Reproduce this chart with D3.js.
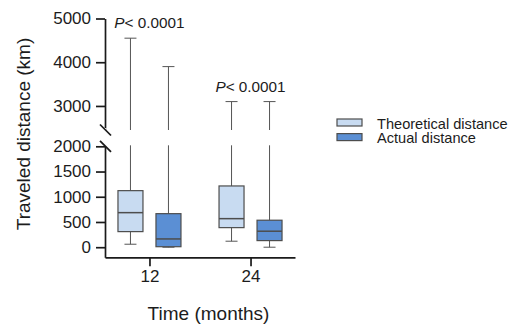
<!DOCTYPE html>
<html>
<head>
<meta charset="utf-8">
<script src="https://cdn.jsdelivr.net/npm/d3@7"></script>
<style>
  html, body { margin: 0; padding: 0; background: #fff; }
  svg { display: block; font-family: "Liberation Sans", Arial, Helvetica, sans-serif; }
</style>
</head>
<body>
<svg id="chart" width="518" height="327"></svg>
<script>
// Follow-up time points (months)
const months = ["12", "24"];
const seriesNames = ["Theoretical distance", "Actual distance"];

// Five-number summaries per time point: [min, q1, median, q3, max] in km
const theoreticalStats = [
  [59, 309, 685, 1121, 4550],
  [119, 388, 566, 1214, 3100]
];
const actualStats = [
  [0, 10, 164, 665, 3900],
  [0, 131, 317, 535, 3100]
];

// Significance per time point
const pValues = ["< 0.0001", "< 0.0001"];

// Axis ticks for the two segments of the broken y axis
const lowerTicks = [0, 500, 1000, 1500, 2000];
const upperTicks = [3000, 4000, 5000];

const fills = ["#c8dbf1", "#5b8fd4"];
const boxStroke = "#4d4d4d";
const whiskerStroke = "#555";
const ink = "#1c1c1c";

const svg = d3.select("#chart");

// Broken y axis: lower segment 0-2000, upper segment above the break
const yLower = d3.scaleLinear().domain([-200, 2000]).range([257.3, 146.3]);
const yUpper = d3.scaleLinear().domain([2450, 5000]).range([130, 18.5]);
const breakValue = 2000;

const x = d3.scalePoint().domain(months).range([105, 295]).padding(0.44);
const offset = d3.scalePoint().domain(seriesNames).range([-19, 19]);
const boxW = 25;
const capHalf = 6;

const stats = [theoreticalStats, actualStats];

function seg(g, x1, y1, x2, y2, color, w) {
  g.append("line").attr("x1", x1).attr("y1", y1).attr("x2", x2).attr("y2", y2)
    .attr("stroke", color).attr("stroke-width", w);
}

// Boxes and whiskers
seriesNames.forEach((name, si) => {
  months.forEach((m, mi) => {
    const [mn, q1, med, q3, mx] = stats[si][mi];
    const cx = x(m) + offset(name);
    const g = svg.append("g");

    // upper whisker, split across the axis break when needed
    if (mx > breakValue) {
      seg(g, cx, yLower(q3), cx, yLower(breakValue) - 1, whiskerStroke, 1);
      seg(g, cx, yUpper.range()[0], cx, yUpper(mx), whiskerStroke, 1);
      seg(g, cx - capHalf, yUpper(mx), cx + capHalf, yUpper(mx), whiskerStroke, 1);
    } else {
      seg(g, cx, yLower(q3), cx, yLower(mx), whiskerStroke, 1);
      seg(g, cx - capHalf, yLower(mx), cx + capHalf, yLower(mx), whiskerStroke, 1);
    }

    // lower whisker
    seg(g, cx, yLower(q1), cx, yLower(mn), whiskerStroke, 1);
    seg(g, cx - capHalf, yLower(mn), cx + capHalf, yLower(mn), whiskerStroke, 1);

    // box
    g.append("rect")
      .attr("x", cx - boxW / 2).attr("y", yLower(q3))
      .attr("width", boxW).attr("height", yLower(q1) - yLower(q3))
      .attr("fill", fills[si]).attr("stroke", boxStroke).attr("stroke-width", 1.2);

    // median
    seg(g, cx - boxW / 2, yLower(med), cx + boxW / 2, yLower(med), boxStroke, 1.5);
  });
});

// Axes
function styleAxis(sel, fontSize) {
  sel.selectAll("path.domain").attr("stroke", "#1a1a1a").attr("stroke-width", 1.7);
  sel.selectAll(".tick line").attr("stroke", "#1a1a1a").attr("stroke-width", 1.7);
  sel.selectAll(".tick text").attr("fill", ink).style("font-size", fontSize + "px")
    .style("font-family", '"Liberation Sans", Arial, sans-serif');
}

const intFmt = d3.format("d");

const axLower = svg.append("g").attr("transform", "translate(105,0)")
  .call(d3.axisLeft(yLower).tickValues(lowerTicks).tickFormat(intFmt)
    .tickSize(9).tickSizeOuter(0).tickPadding(5));
styleAxis(axLower, 17);

const axUpper = svg.append("g").attr("transform", "translate(105,0)")
  .call(d3.axisLeft(yUpper).tickValues(upperTicks).tickFormat(intFmt)
    .tickSize(9).tickSizeOuter(0).tickPadding(5));
styleAxis(axUpper, 17);

const axX = svg.append("g").attr("transform", "translate(0,257.3)")
  .call(d3.axisBottom(x).tickSize(9).tickSizeOuter(0).tickPadding(4));
styleAxis(axX, 17);

// Break marks on the y axis, with a white gap between the segments
svg.append("line").attr("x1", 105).attr("x2", 105)
  .attr("y1", yUpper.range()[0] - 2).attr("y2", yLower(breakValue) - 0.5)
  .attr("stroke", "#fff").attr("stroke-width", 3);
[yUpper.range()[0], yLower(breakValue)].forEach(yy => {
  seg(svg, 100, yy - 5.5, 111, yy + 5.5, "#1a1a1a", 1.7);
});

// P-value annotations above each time point
months.forEach((m, mi) => {
  const top = Math.max(theoreticalStats[mi][4], actualStats[mi][4]);
  const yy = top > breakValue ? yUpper(top) : yLower(top);
  const t = svg.append("text")
    .attr("x", x(m)).attr("y", yy - 10)
    .attr("text-anchor", "middle")
    .attr("fill", ink).style("font-size", "15.3px");
  t.append("tspan").style("font-style", "italic").text("P");
  t.append("tspan").text(pValues[mi]);
});

// Axis titles
svg.append("text")
  .attr("transform", "translate(30,134) rotate(-90)")
  .attr("text-anchor", "middle").attr("fill", ink)
  .style("font-size", "19px")
  .text("Traveled distance (km)");

svg.append("text")
  .attr("x", 208.5).attr("y", 320)
  .attr("text-anchor", "middle").attr("fill", ink)
  .style("font-size", "19px")
  .text("Time (months)");

// Legend
const legend = svg.append("g").attr("transform", "translate(337,119)");
seriesNames.forEach((name, i) => {
  legend.append("rect")
    .attr("x", 0).attr("y", i * 14.6)
    .attr("width", 25).attr("height", 7)
    .attr("fill", fills[i]).attr("stroke", boxStroke).attr("stroke-width", 1.2);
  legend.append("text")
    .attr("x", 40).attr("y", i * 14.6 + 9.5)
    .attr("fill", ink).style("font-size", "14.6px")
    .text(name);
});
</script>
</body>
</html>
